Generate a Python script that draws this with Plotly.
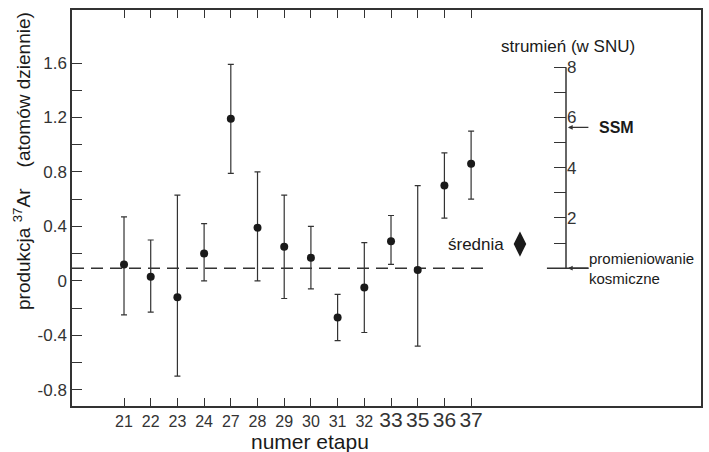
import plotly.graph_objects as go

# ---- data ----
runs = ["21", "22", "23", "24", "27", "28", "29", "30", "31", "32", "33", "35", "36", "37"]
production = [0.12, 0.03, -0.12, 0.20, 1.19, 0.39, 0.25, 0.17, -0.27, -0.05, 0.29, 0.08, 0.70, 0.86]
err_high = [0.47, 0.30, 0.63, 0.42, 1.59, 0.80, 0.63, 0.40, -0.10, 0.28, 0.48, 0.70, 0.94, 1.10]
err_low = [-0.25, -0.23, -0.70, 0.00, 0.79, 0.00, -0.13, -0.06, -0.44, -0.38, 0.12, -0.48, 0.46, 0.60]
mean_value = 0.27          # "średnia"
cosmic_background = 0.093  # dashed line, 0 SNU
snu_per_unit = 0.1846      # production units per 1 SNU
ssm_snu = 5.6
snu_ticks = [1, 2, 3, 4, 5, 6, 7, 8]
snu_labels = ["", "2", "", "4", "", "6", "", "8"]
y_major = [-0.8, -0.4, 0, 0.4, 0.8, 1.2, 1.6]
y_major_text = ["-0.8", "-0.4", "0", "0.4", "0.8", "1.2", "1.6"]
y_minor = [-0.6, -0.2, 0.2, 0.6, 1.0, 1.4]
large_label_runs = ["33", "35", "36", "37"]

# ---- layout geometry ----
W, H = 709, 452
ML, MR, MT, MB = 72, 8, 10, 46
XMIN, XMAX = -1.948, 21.61
YMIN, YMAX = -0.92, 1.99
AXIS2_POS = (566 - ML) / (W - ML - MR)
y2_range = [(YMIN - cosmic_background) / snu_per_unit, (YMAX - cosmic_background) / snu_per_unit]

xpos = list(range(len(runs)))
xtick_text = [f'<span style="font-size:21px">{r}</span>' if r in large_label_runs else r for r in runs]
ink = "#1a1a1a"
font = "Liberation Sans, Arial, sans-serif"

fig = go.Figure()

# dashed cosmic-background line
fig.add_trace(go.Scatter(x=[XMIN, 13.7], y=[cosmic_background] * 2, mode="lines",
                         line=dict(color="#333", width=1.5, dash="12px,7px"),
                         hoverinfo="skip", showlegend=False))
fig.add_trace(go.Scatter(x=[15.84, 17.4], y=[cosmic_background] * 2, mode="lines",
                         line=dict(color="#333", width=1.5),
                         hoverinfo="skip", showlegend=False))

# data points with asymmetric error bars
fig.add_trace(go.Scatter(
    x=xpos, y=production, mode="markers",
    marker=dict(color=ink, size=8),
    error_y=dict(type="data", symmetric=False,
                 array=[h - p for h, p in zip(err_high, production)],
                 arrayminus=[p - l for p, l in zip(production, err_low)],
                 color="#333", thickness=1.2, width=3),
    showlegend=False))

# mean diamond
fig.add_trace(go.Scatter(x=[14.83], y=[mean_value], mode="markers",
                         marker=dict(symbol="diamond-tall", size=18, color=ink),
                         showlegend=False, hoverinfo="skip"))

# invisible trace to bind yaxis2
fig.add_trace(go.Scatter(x=[XMIN], y=[0], yaxis="y2", mode="markers",
                         marker=dict(opacity=0), showlegend=False, hoverinfo="skip"))

fig.update_layout(
    width=W, height=H,
    margin=dict(l=ML, r=MR, t=MT, b=MB, autoexpand=False),
    paper_bgcolor="white", plot_bgcolor="white",
    font=dict(family=font, color=ink),
    xaxis=dict(range=[XMIN, XMAX], tickvals=xpos, ticktext=xtick_text, automargin=False,
               ticks="inside", ticklen=8, tickcolor="#333", tickwidth=1.2,
               showgrid=False, zeroline=False, showline=True, linecolor="#333",
               linewidth=1.5, mirror="ticks", tickfont=dict(size=16, color="#333")),
    yaxis=dict(range=[YMIN, YMAX], tickvals=y_major, ticktext=y_major_text, automargin=False,
               ticks="inside", ticklen=10, tickcolor="#333", tickwidth=1.2,
               minor=dict(tickvals=y_minor, ticks="inside", ticklen=10, tickcolor="#333"),
               showgrid=False, zeroline=False, showline=True, linecolor="#333",
               linewidth=1.5, mirror=True, tickfont=dict(size=17, color="#333")),
    yaxis2=dict(range=y2_range, overlaying="y", anchor="free", position=AXIS2_POS,
                side="right", tickvals=snu_ticks, ticktext=snu_labels, automargin=False,
                ticks="inside", ticklen=12, tickcolor="#333", tickwidth=1.2,
                showgrid=False, zeroline=False, showline=False,
                tickfont=dict(size=17, color="#333")),
)

# right axis line from 0 to 8 SNU
fig.add_shape(type="line", xref="paper", yref="y2", x0=AXIS2_POS, x1=AXIS2_POS,
              y0=0, y1=snu_ticks[-1], line=dict(color="#333", width=1.5))

def px_x(p):
    return (p - ML) / (W - ML - MR)

def px_y(p):
    return (H - MB - p) / (H - MT - MB)

# SSM arrow
fig.add_annotation(xref="paper", yref="y2", x=AXIS2_POS + 0.003, y=ssm_snu, ax=22, ay=0,
                   text="", showarrow=True, arrowhead=2, arrowsize=0.8, arrowwidth=1.2,
                   arrowcolor="#333")
fig.add_annotation(xref="paper", yref="y2", x=px_x(597), y=ssm_snu, xanchor="left",
                   yanchor="middle", text="<b>SSM</b>", showarrow=False,
                   font=dict(size=16, color=ink))
# cosmic arrow
fig.add_annotation(xref="paper", yref="y2", x=AXIS2_POS + 0.003, y=0, ax=22, ay=0,
                   text="", showarrow=True, arrowhead=2, arrowsize=0.8, arrowwidth=1.2,
                   arrowcolor="#333")
fig.add_annotation(xref="paper", yref="y", x=px_x(587), y=cosmic_background, xanchor="left",
                   yanchor="middle", align="left",
                   text="promieniowanie<br>kosmiczne", showarrow=False,
                   font=dict(size=15, color=ink))
# flux label
fig.add_annotation(xref="paper", yref="paper", x=px_x(568), y=px_y(46), xanchor="center",
                   yanchor="middle", text="strumień (w SNU)", showarrow=False,
                   font=dict(size=17, color=ink))
# mean label
fig.add_annotation(xref="paper", yref="y", x=px_x(506), y=mean_value, xanchor="right",
                   yanchor="middle", text="średnia", showarrow=False,
                   font=dict(size=17, color=ink))
# axis titles
fig.add_annotation(xref="paper", yref="paper", x=px_x(22), y=px_y(161), textangle=-90,
                   xanchor="center", yanchor="middle",
                   text="produkcja <sup>37</sup>Ar    (atomów dziennie)", showarrow=False,
                   font=dict(size=19, color=ink))
fig.add_annotation(xref="paper", yref="paper", x=px_x(310), y=px_y(442),
                   xanchor="center", yanchor="middle",
                   text="numer etapu", showarrow=False, font=dict(size=21, color=ink))

fig.write_html("out.html", config={"displayModeBar": False},
               post_script="document.body.style.margin='0';document.body.style.overflow='hidden';")
